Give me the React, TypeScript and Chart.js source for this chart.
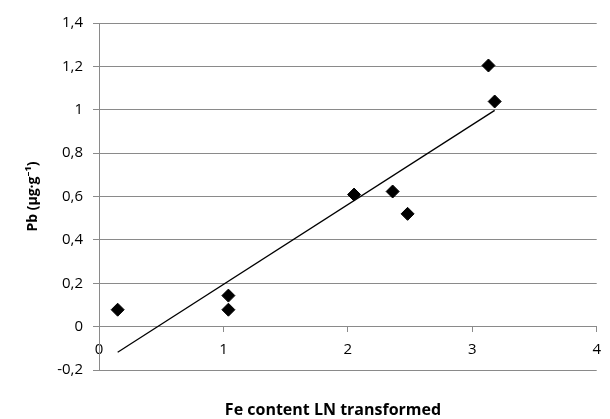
import React, { useEffect, useRef } from "react";
import { Chart, registerables } from "chart.js";

Chart.register(...registerables);

// Data
const feLn = [0.15, 1.04, 1.04, 2.05, 2.36, 2.48, 3.13, 3.18];
const pbValues = [0.078, 0.078, 0.143, 0.609, 0.623, 0.52, 1.204, 1.038];
const xTitle = "Fe content LN transformed";
const yTitle = "Pb (µg·g⁻¹)";
const xRange = [0, 4];
const yRange = [-0.2, 1.4];

const FONT = "'Open Sans', 'Noto Sans', sans-serif";
const GRID = "#8a8a8a";

function linearFit(xs: number[], ys: number[]) {
  const n = xs.length;
  const mx = xs.reduce((a, b) => a + b, 0) / n;
  const my = ys.reduce((a, b) => a + b, 0) / n;
  let sxy = 0;
  let sxx = 0;
  for (let i = 0; i < n; i++) {
    sxy += (xs[i] - mx) * (ys[i] - my);
    sxx += (xs[i] - mx) * (xs[i] - mx);
  }
  const slope = sxy / sxx;
  return { slope, intercept: my - slope * mx };
}

const xTitlePlugin = {
  id: "xTitlePlugin",
  afterDraw(chart: any) {
    const { ctx } = chart;
    ctx.save();
    ctx.font = `bold 16px ${FONT}`;
    ctx.fillStyle = "#000";
    ctx.textAlign = "center";
    ctx.textBaseline = "middle";
    ctx.fillText(xTitle, 333, 410);
    ctx.restore();
  },
};

export default function App() {
  const ref = useRef<HTMLCanvasElement | null>(null);

  useEffect(() => {
    document.body.style.margin = "0";
    const canvas = ref.current;
    if (!canvas) return;
    const { slope, intercept } = linearFit(feLn, pbValues);
    const xMin = Math.min(...feLn);
    const xMax = Math.max(...feLn);
    const trend = [
      { x: xMin, y: slope * xMin + intercept },
      { x: xMax, y: slope * xMax + intercept },
    ];
    const points = feLn.map((x, i) => ({ x, y: pbValues[i] }));

    const chart = new Chart(canvas, {
      type: "scatter",
      data: {
        datasets: [
          {
            data: points,
            pointStyle: "rectRot",
            pointRadius: 6.5,
            pointHoverRadius: 6.5,
            backgroundColor: "#000",
            borderColor: "#000",
            borderWidth: 1,
            order: 0,
          },
          {
            data: trend,
            showLine: true,
            borderColor: "#000",
            borderWidth: 1.3,
            pointRadius: 0,
            order: 1,
          } as any,
        ],
      },
      options: {
        responsive: false,
        animation: false,
        layout: { padding: { top: 23, right: 13, bottom: 49, left: 0 } },
        plugins: {
          legend: { display: false },
          tooltip: { enabled: false },
        },
        scales: {
          x: {
            type: "linear",
            min: xRange[0],
            max: xRange[1],
            position: { y: 0 } as any,
            ticks: {
              stepSize: 1,
              padding: 9,
              color: "#000",
              font: { family: FONT, size: 15 },
            },
            grid: {
              drawOnChartArea: false,
              drawTicks: true,
              tickLength: 5,
              color: GRID,
            },
            border: { display: true, color: GRID },
          },
          y: {
            type: "linear",
            min: yRange[0],
            max: yRange[1],
            position: "left",
            afterFit: (s: any) => {
              s.width = 99;
            },
            ticks: {
              stepSize: 0.2,
              padding: 10,
              color: "#000",
              font: { family: FONT, size: 15 },
              callback: (v: any) =>
                String(Number(Number(v).toFixed(1))).replace(".", ","),
            },
            grid: { color: GRID, drawTicks: true, tickLength: 6 },
            border: { display: true, color: GRID },
            title: {
              display: true,
              text: yTitle,
              color: "#000",
              font: { family: FONT, size: 14, weight: "bold" },
              padding: { top: 25, bottom: 0 },
            },
          },
        },
      },
      plugins: [xTitlePlugin],
    });
    return () => chart.destroy();
  }, []);

  return (
    <div style={{ position: "absolute", left: 0, top: 0, width: 610, height: 419, background: "#fff" }}>
      <canvas ref={ref} width={610} height={419} />
    </div>
  );
}
